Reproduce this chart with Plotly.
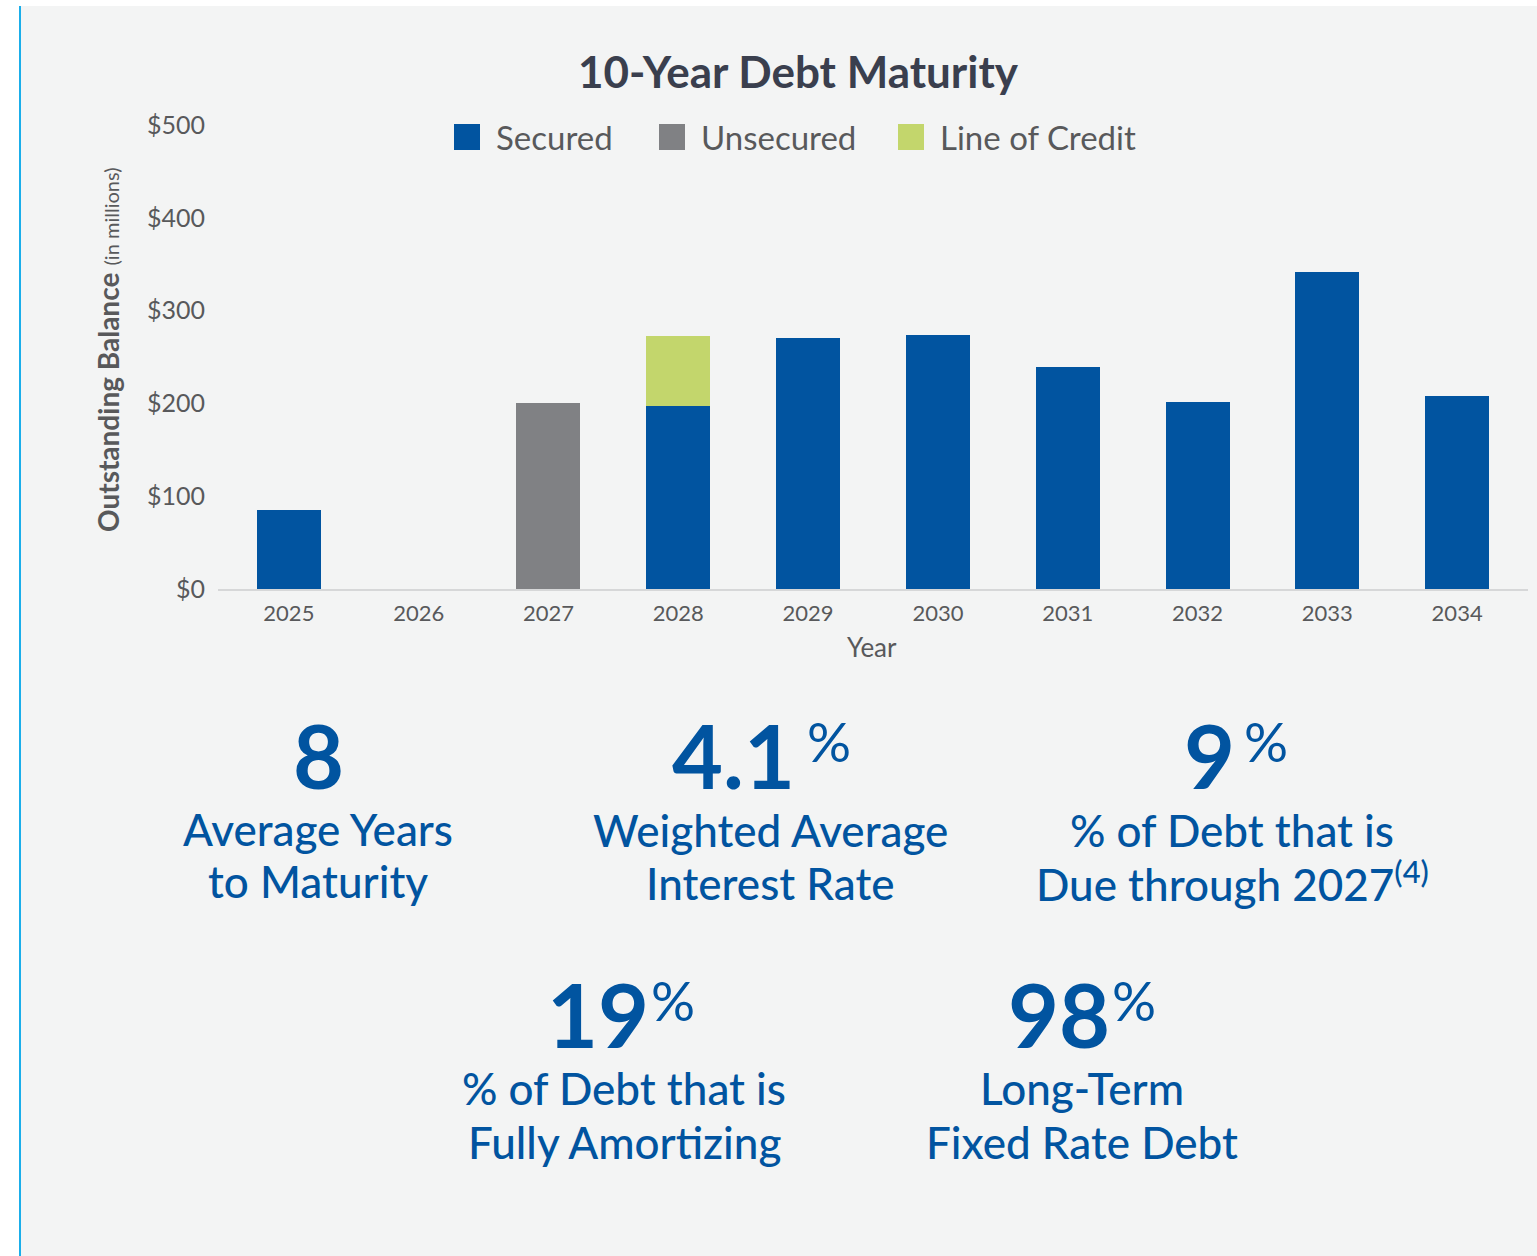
import plotly.graph_objects as go

# ---------------- data ----------------
years = ["2025", "2026", "2027", "2028", "2029", "2030", "2031", "2032", "2033", "2034"]
secured = [85, 0, 0, 197, 270, 274, 239, 201, 342, 208]
unsecured = [0, 0, 200, 0, 0, 0, 0, 0, 0, 0]
line_of_credit = [0, 0, 0, 76, 0, 0, 0, 0, 0, 0]
series_names = ["Secured", "Unsecured", "Line of Credit"]
series_colors = ["#0154a0", "#808184", "#c3d66c"]
y_ticks = [0, 100, 200, 300, 400, 500]

stat_numbers = ["8", "4.1", "9", "19", "98"]
stat_suffix = ["", "%", "%", "%", "%"]
stat_label_line1 = ["Average Years", "Weighted Average", "% of Debt that is",
                    "% of Debt that is", "Long-Term"]
stat_label_line2 = ["to Maturity", "Interest Rate", "Due through 2027<sup>(4)</sup>",
                    "Fully Amortizing", "Fixed Rate Debt"]

# ---------------- geometry helpers ----------------
W, H = 1537, 1256
ML, MR, MT, MB = 218, 9, 125, 667
PW = W - ML - MR
PH = H - MT - MB


def px(x):
    return (x - ML) / PW


def py(y):
    return (H - MB - y) / PH


BLUE = "#0154a0"
GRAY_TXT = "#58595b"
FONT = "Lato"

fig = go.Figure()
for name, vals, col in zip(series_names, [secured, unsecured, line_of_credit], series_colors):
    fig.add_trace(go.Bar(x=years, y=vals, name=name, marker=dict(color=col, line=dict(width=0)),
                         showlegend=False, hoverinfo="x+y+name"))

shapes = [
    dict(type="rect", xref="paper", yref="paper", x0=px(21), x1=px(W + 5), y0=py(6), y1=py(H + 5),
         fillcolor="#f3f4f4", line=dict(width=0), layer="below"),
    dict(type="rect", xref="paper", yref="paper", x0=px(19), x1=px(21), y0=py(6), y1=py(H + 5),
         fillcolor="#1aaeea", line=dict(width=0), layer="below"),
]

annotations = []
# manual legend
leg_sq_x = [454, 659, 898]
leg_txt_x = [494, 699, 938]
for name, col, sx, tx in zip(series_names, series_colors, leg_sq_x, leg_txt_x):
    shapes.append(dict(type="rect", xref="paper", yref="paper", x0=px(sx), x1=px(sx + 26),
                       y0=py(124), y1=py(150), fillcolor=col, line=dict(width=0)))
    annotations.append(dict(text=name, xref="paper", yref="paper", x=px(tx), y=py(137),
                            xanchor="left", yanchor="middle", showarrow=False,
                            font=dict(family=FONT, size=33, color=GRAY_TXT)))

# y-axis title
annotations.append(dict(
    text="<b>Outstanding Balance</b> <span style='font-size:20px'>(in millions)</span>",
    xref="paper", yref="paper", x=px(108), y=py(350), textangle=-90,
    xanchor="center", yanchor="middle", showarrow=False,
    font=dict(family=FONT, size=28, color=GRAY_TXT)))
# x-axis title
annotations.append(dict(text="Year", xref="paper", yref="paper", x=px(872), y=py(647),
                        xanchor="center", yanchor="middle", showarrow=False,
                        font=dict(family=FONT, size=26, color=GRAY_TXT)))

# stats
num_right = [None, 797, 1237, 651, 1112]
pct_left = [None, 805, 1242, 649, 1110]
label_cx = [318, 770, 1232, 624, 1082]
num_top = [700, 700, 700, 959, 959]
pct_top = [706, 706, 706, 965, 965]
lab1_top = [801, 802, 802, 1060, 1060]
lab2_top = [853, 855, 851, 1114, 1114]
LAB_SIZE = 44
for i in range(len(stat_numbers)):
    numfont = dict(family=FONT, size=88, color=BLUE, weight="bold")
    if num_right[i] is None:
        annotations.append(dict(text=stat_numbers[i], xref="paper", yref="paper",
                                x=px(label_cx[i]), y=py(num_top[i]), xanchor="center", yanchor="top",
                                showarrow=False, font=numfont))
    else:
        annotations.append(dict(text=stat_numbers[i], xref="paper", yref="paper",
                                x=px(num_right[i]), y=py(num_top[i]), xanchor="right", yanchor="top",
                                showarrow=False, font=numfont))
        annotations.append(dict(text=stat_suffix[i], xref="paper", yref="paper",
                                x=px(pct_left[i]), y=py(pct_top[i]), xanchor="left", yanchor="top",
                                showarrow=False, font=dict(family=FONT, size=55, color=BLUE)))
    for txt, top in ((stat_label_line1[i], lab1_top[i]), (stat_label_line2[i], lab2_top[i])):
        annotations.append(dict(text=txt, xref="paper", yref="paper",
                                x=px(label_cx[i]), y=py(top), xanchor="center", yanchor="top",
                                align="center", showarrow=False,
                                font=dict(family=FONT, size=LAB_SIZE, color=BLUE, weight=500)))

fig.update_layout(
    width=W, height=H,
    margin=dict(l=ML, r=MR, t=MT, b=MB, pad=0),
    paper_bgcolor="white", plot_bgcolor="rgba(0,0,0,0)",
    barmode="stack", bargap=0.507,
    title=dict(text="<b>10-Year Debt Maturity</b>", x=798 / W, xref="container", xanchor="center",
               y=1 - 73 / H, yref="container", yanchor="middle",
               font=dict(family=FONT, size=44, color="#3a3f4e")),
    xaxis=dict(type="category", range=[-0.546, 9.546], showgrid=False, zeroline=False,
               showline=True, linecolor="#d6d7d8", linewidth=2, ticks="",
               tickfont=dict(family=FONT, size=22, color=GRAY_TXT), ticklabelstandoff=4),
    yaxis=dict(range=[0, 500], tickvals=y_ticks, ticktext=["$" + str(v) for v in y_ticks],
               showgrid=False, zeroline=False, showline=False, ticks="",
               tickfont=dict(family=FONT, size=25, color=GRAY_TXT), ticklabelstandoff=12),
    shapes=shapes, annotations=annotations,
    showlegend=False,
)

fig.write_html("out.html", config={"displayModeBar": False},
               post_script="document.body.style.margin='0';document.body.style.overflow='hidden';")
